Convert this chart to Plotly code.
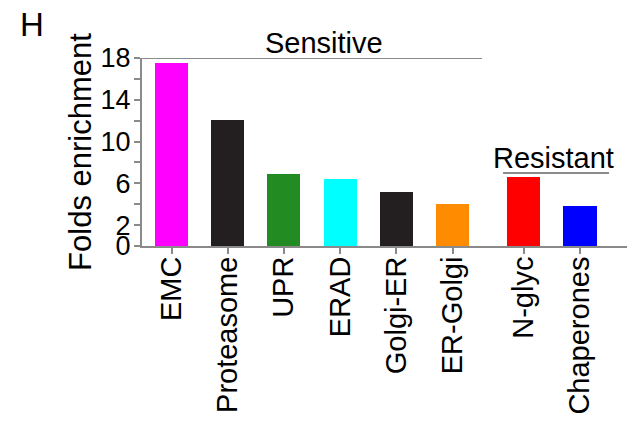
import plotly.graph_objects as go

# Pathway categories and their fold enrichment
categories = ["EMC", "Proteasome", "UPR", "ERAD", "Golgi-ER", "ER-Golgi", "N-glyc", "Chaperones"]
enrichment = [17.5, 12.1, 6.9, 6.4, 5.2, 4.0, 6.6, 3.8]
bar_colors = ["#ff00ff", "#231f20", "#228b22", "#00ffff", "#231f20", "#ff8c00", "#ff0000", "#0000ff"]
groups = ["Sensitive"] * 6 + ["Resistant"] * 2

# y-axis ticks every 2, labels only on some
y_tickvals = list(range(0, 19, 2))
y_labeled = [0, 2, 6, 10, 14, 18]
y_ticktext = [str(v) if v in y_labeled else "" for v in y_tickvals]

# x positions: small extra gap between the two groups
group_gap = 0.27
xpos = []
for i, g in enumerate(groups):
    xpos.append(i + (group_gap if g == "Resistant" else 0))

FONT = "Arial, Liberation Sans, sans-serif"
AXIS_GREY = "#8a8a8a"

x_lo = -0.525
x_hi = xpos[-1] + 0.835

fig = go.Figure(go.Bar(
    x=xpos, y=enrichment, marker=dict(color=bar_colors, line=dict(width=0)),
    width=0.59, showlegend=False,
))

sens_idx = [i for i, g in enumerate(groups) if g == "Sensitive"]
res_idx = [i for i, g in enumerate(groups) if g == "Resistant"]

shapes = [
    # bracket line over sensitive group (at the top of the axis)
    dict(type="line", xref="x", yref="y", x0=x_lo, x1=xpos[sens_idx[-1]] + 0.525,
         y0=18, y1=18, line=dict(color=AXIS_GREY, width=2)),
    # bracket line over resistant group
    dict(type="line", xref="x", yref="y", x0=xpos[res_idx[0]] - 0.37, x1=xpos[res_idx[-1]] + 0.515,
         y0=7, y1=7, line=dict(color=AXIS_GREY, width=2)),
]

annotations = [
    dict(text="Sensitive", xref="x", yref="y", x=2.71, y=18, yanchor="bottom", xanchor="center",
         showarrow=False, font=dict(family=FONT, size=29, color="black"), yshift=-3),
    dict(text="Resistant", xref="x", yref="y", x=6.79, y=7, yanchor="bottom", xanchor="center",
         showarrow=False, font=dict(family=FONT, size=29, color="black"), yshift=-3),
    dict(text="H", xref="paper", yref="paper", x=-0.256, y=1.285, xanchor="left", yanchor="top",
         showarrow=False, font=dict(family=FONT, size=33, color="black")),
]

fig.update_layout(
    width=637, height=423,
    margin=dict(l=142, r=10, t=58, b=177, pad=0),
    paper_bgcolor="white", plot_bgcolor="white",
    font=dict(family=FONT, color="black"),
    shapes=shapes, annotations=annotations,
    bargap=0,
)
fig.update_xaxes(
    range=[x_lo, x_hi], tickvals=xpos, ticktext=categories, tickangle=-90,
    showline=True, linecolor=AXIS_GREY, linewidth=2,
    ticks="outside", ticklen=6, tickwidth=2, tickcolor=AXIS_GREY,
    tickfont=dict(family=FONT, size=29, color="black"),
    ticklabelstandoff=-9, automargin=False,
    showgrid=False, zeroline=False, fixedrange=True,
)
fig.update_yaxes(
    range=[0, 18], tickvals=y_tickvals, ticktext=y_ticktext,
    showline=True, linecolor=AXIS_GREY, linewidth=2,
    ticks="outside", ticklen=6, tickwidth=2, tickcolor=AXIS_GREY,
    tickfont=dict(family=FONT, size=27, color="black"),
    ticklabelstandoff=-2,
    title=dict(text="Folds enrichment", font=dict(family=FONT, size=31, color="black"), standoff=0),
    automargin=False,
    showgrid=False, zeroline=False, fixedrange=True,
)

fig.write_html("out.html", config={"displayModeBar": False})
